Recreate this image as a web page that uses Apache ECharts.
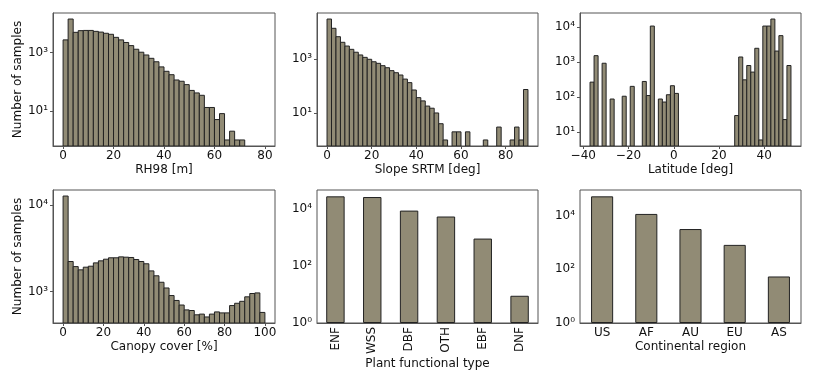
<!DOCTYPE html>
<html>
<head>
<meta charset="utf-8">
<title>Sample distributions</title>
<script src="https://cdn.jsdelivr.net/npm/echarts@6.0.0/dist/echarts.min.js"></script>
<style>
  html, body { margin: 0; padding: 0; background: #fff; }
  #main { width: 814px; height: 383px; }
</style>
</head>
<body>
<div id="main"></div>
<script>
// histogram counts per bin
var rhStart = 0, rhWidth = 2;
var rhCounts = [2700, 14000, 4900, 5600, 5700, 5700, 5300, 5000, 4550, 4200,
  3300, 2700, 2200, 1720, 1290, 1020, 820, 630, 480, 320,
  226, 173, 114, 103, 79, 50, 41, 34, 13, 13,
  5, 8, 1, 2, 1, 1, 0, 0, 0, 0];
var rhTicks = [0, 20, 40, 60, 80];
var rhLogTicks = [10, 1000];

var slopeStart = 0, slopeWidth = 2;
var slopeCounts = [30200, 13700, 6700, 4150, 3020, 2280, 1780, 1410, 1150, 975,
  790, 690, 565, 475, 370, 310, 255, 180, 133, 71,
  37, 28, 18, 15, 10, 4, 1, 0, 2, 2,
  0, 2, 0, 0, 0, 1, 0, 0, 3, 0,
  0, 1, 3, 1, 74];
var slopeTicks = [0, 20, 40, 60, 80];
var slopeLogTicks = [10, 1000];

var latStart = -37.0, latWidth = 1.776;
var latCounts = [271, 1550, 0, 940, 0, 89, 0, 0, 107, 0,
  205, 0, 0, 283, 112, 10900, 0, 89, 73, 118,
  214, 129, 0, 0, 0, 0, 0, 0, 0, 0,
  0, 0, 0, 0, 0, 0, 30, 1420, 315, 810,
  525, 2520, 6, 10900, 10900, 17300, 2100, 5800, 23, 810];
var latTicks = [-40, -20, 0, 20, 40];
var latLogTicks = [10, 100, 1000, 10000];

var coverStart = 0, coverWidth = 2.5;
var coverCounts = [12600, 2220, 1940, 1780, 1910, 1960, 2140, 2260, 2360, 2450,
  2450, 2510, 2490, 2470, 2340, 2220, 2090, 1730, 1520, 1280,
  1100, 900, 790, 700, 615, 605, 540, 550, 510, 550,
  583, 568, 568, 690, 733, 772, 870, 950, 965, 575];
var coverTicks = [0, 20, 40, 60, 80, 100];
var coverLogTicks = [1000, 10000];

var pftNames = ['ENF', 'WSS', 'DBF', 'OTH', 'EBF', 'DNF'];
var pftCounts = [27500, 26000, 8700, 5400, 910, 9];
var regionNames = ['US', 'AF', 'AU', 'EU', 'AS'];
var regionCounts = [52000, 11500, 3150, 810, 54];
var barLogTicks = [1, 100, 10000];

var FILL = '#918b75', EDGE = '#222', FRAME = '#555', TEXT = '#111', FONT = 'DejaVu Sans';

function histData(start, width, counts) {
  var out = [];
  for (var i = 0; i < counts.length; i++) {
    if (counts[i] > 0) out.push([start + i * width, start + (i + 1) * width, counts[i]]);
  }
  return out;
}

// matplotlib style 5% margins
function padExtent(a, b) {
  var m = (b - a) * 0.05;
  return [a - m, b + m];
}

function logExtent(counts) {
  var pos = counts.filter(function (c) { return c > 0; });
  var e = padExtent(Math.log10(Math.min.apply(null, pos)), Math.log10(Math.max.apply(null, pos)));
  return [Math.pow(10, e[0]), Math.pow(10, e[1])];
}

var SUP = { '0': '\u2070', '1': '\u00b9', '2': '\u00b2', '3': '\u00b3', '4': '\u2074', '-': '\u207b' };
function powLabel(v) {
  var e = String(Math.round(Math.log10(v)));
  return '10' + e.split('').map(function (ch) { return SUP[ch]; }).join('');
}
function numLabel(v) {
  return v < 0 ? '\u2212' + (-v) : String(v);
}

function renderHist(params, api) {
  var c = api.value(2);
  var a = api.coord([api.value(0), c]);
  var b = api.coord([api.value(1), c]);
  var base = params.coordSys.y + params.coordSys.height;
  return {
    type: 'rect',
    shape: { x: a[0], y: a[1], width: b[0] - a[0], height: base - a[1] },
    style: { fill: FILL, stroke: EDGE, lineWidth: 1 }
  };
}

var labelStyle = { fontFamily: FONT, fontSize: 12, color: TEXT };
var nameStyle = { fontFamily: FONT, fontSize: 12, color: TEXT };

function valueX(idx, ext, ticks, name) {
  return {
    type: 'value', gridIndex: idx, min: ext[0], max: ext[1],
    name: name, nameLocation: 'middle', nameGap: 18, nameTextStyle: nameStyle,
    splitLine: { show: false },
    axisLine: { onZero: false, lineStyle: { color: FRAME } },
    axisTick: { customValues: ticks, length: 3, lineStyle: { color: FRAME } },
    axisLabel: Object.assign({ customValues: ticks, margin: 4, formatter: numLabel }, labelStyle)
  };
}

function categoryX(idx, names, name, rotate, gap) {
  return {
    type: 'category', gridIndex: idx, data: names,
    name: name, nameLocation: 'middle', nameGap: gap, nameTextStyle: nameStyle,
    axisLine: { onZero: false, lineStyle: { color: FRAME } },
    axisTick: { alignWithLabel: true, length: 3, lineStyle: { color: FRAME } },
    axisLabel: Object.assign({ rotate: rotate, margin: 4, interval: 0 }, labelStyle)
  };
}

function logY(idx, ext, ticks, name) {
  return {
    type: 'log', logBase: 10, gridIndex: idx, min: ext[0], max: ext[1],
    name: name, nameLocation: 'middle', nameGap: 29, nameTextStyle: nameStyle,
    splitLine: { show: false },
    axisLine: { onZero: false, lineStyle: { color: FRAME } },
    axisTick: { customValues: ticks, length: 3, lineStyle: { color: FRAME } },
    axisLabel: Object.assign({ customValues: ticks, margin: 5, formatter: powLabel }, labelStyle)
  };
}

function grid(left, top, width, height) {
  return { left: left, top: top, width: width, height: height, show: true,
    borderColor: FRAME, borderWidth: 1, backgroundColor: 'transparent' };
}

function histSeries(idx, data) {
  return { type: 'custom', xAxisIndex: idx, yAxisIndex: idx, renderItem: renderHist,
    encode: { x: [0, 1], y: 2 }, data: data, clip: true, silent: true };
}

function barSeries(idx, data) {
  return { type: 'bar', xAxisIndex: idx, yAxisIndex: idx, data: data, barWidth: '50%',
    silent: true, itemStyle: { color: FILL, borderColor: EDGE, borderWidth: 1 } };
}

var chart = echarts.init(document.getElementById('main'), null, { renderer: 'canvas' });

var option = {
  animation: false,
  backgroundColor: '#fff',
  grid: [
    grid(53, 13, 222, 133),
    grid(317, 13, 221, 133),
    grid(580, 13, 221, 133),
    grid(53, 190, 222, 133),
    grid(317, 190, 221, 133),
    grid(580, 190, 221, 133)
  ],
  xAxis: [
    valueX(0, padExtent(rhStart, rhStart + rhWidth * rhCounts.length), rhTicks, 'RH98 [m]'),
    valueX(1, padExtent(slopeStart, slopeStart + slopeWidth * slopeCounts.length), slopeTicks, 'Slope SRTM [deg]'),
    valueX(2, padExtent(latStart, latStart + latWidth * latCounts.length), latTicks, 'Latitude [deg]'),
    valueX(3, padExtent(coverStart, coverStart + coverWidth * coverCounts.length), coverTicks, 'Canopy cover [%]'),
    categoryX(4, pftNames, 'Plant functional type', 90, 33),
    categoryX(5, regionNames, 'Continental region', 0, 18)
  ],
  yAxis: [
    logY(0, logExtent(rhCounts), rhLogTicks, 'Number of samples'),
    logY(1, logExtent(slopeCounts), slopeLogTicks, ''),
    logY(2, logExtent(latCounts), latLogTicks, ''),
    logY(3, logExtent(coverCounts), coverLogTicks, 'Number of samples'),
    logY(4, [1, Math.pow(10, Math.log10(Math.max.apply(null, pftCounts)) * 1.05)], barLogTicks, ''),
    logY(5, [1, Math.pow(10, Math.log10(Math.max.apply(null, regionCounts)) * 1.05)], barLogTicks, '')
  ],
  series: [
    histSeries(0, histData(rhStart, rhWidth, rhCounts)),
    histSeries(1, histData(slopeStart, slopeWidth, slopeCounts)),
    histSeries(2, histData(latStart, latWidth, latCounts)),
    histSeries(3, histData(coverStart, coverWidth, coverCounts)),
    barSeries(4, pftCounts),
    barSeries(5, regionCounts)
  ]
};

chart.setOption(option);
</script>
</body>
</html>
